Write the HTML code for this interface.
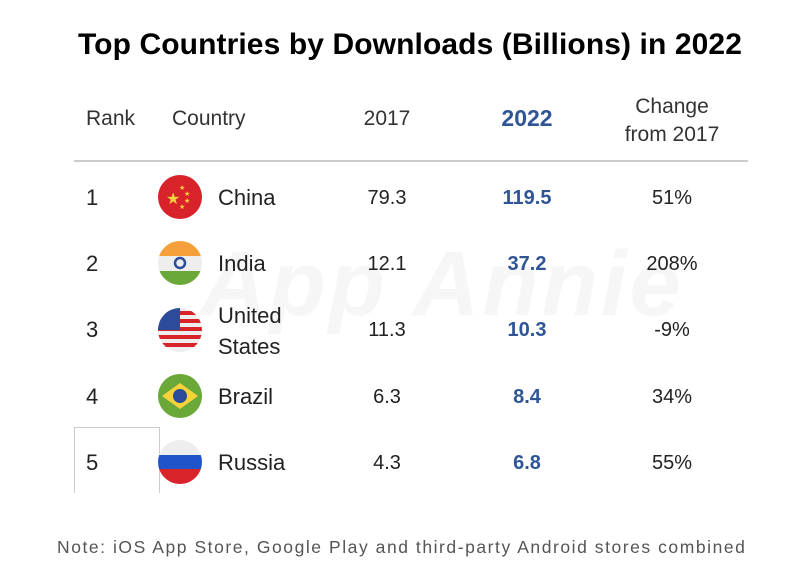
<!DOCTYPE html>
<html><head><style>
body{margin:0;width:800px;height:574px;background:#fff;overflow:hidden;position:relative;font-family:"Liberation Sans",sans-serif;color:#222}
.t{position:absolute;white-space:nowrap}
.title{left:0;width:820px;text-align:center;top:28px;font-size:30px;font-weight:bold;color:#000;letter-spacing:0.1px}
.h{font-size:21px;color:#333}
.c{font-size:22px;color:#222}
.n{font-size:20px;margin-top:2px}
.b{font-weight:bold;color:#2f5597}
.ctr{transform:translateX(-50%);text-align:center}
</style></head><body>
<div class="t title">Top Countries by Downloads (Billions) in 2022</div>
<div class="t" style="left:200px;top:232px;font-size:92px;font-style:italic;font-weight:bold;color:#f6f6f6;letter-spacing:3px">App Annie</div>
<div class="t h" style="left:86px;top:107px">Rank</div>
<div class="t h" style="left:172px;top:107px">Country</div>
<div class="t h ctr" style="left:387px;top:107px">2017</div>
<div class="t h ctr b" style="left:527px;top:105px;font-size:23px">2022</div>
<div class="t h ctr" style="left:672px;top:93px;line-height:28px">Change<br>from 2017</div>
<div style="position:absolute;left:74px;top:160px;width:674px;height:2px;background:#ccc"></div>
<div style="position:absolute;left:74px;top:427px;width:86px;height:1px;background:#ccc"></div>
<div style="position:absolute;left:74px;top:427px;width:1px;height:66px;background:#ccc"></div>
<div style="position:absolute;left:159px;top:427px;width:1px;height:66px;background:#ccc"></div>

<svg width="800" height="574" style="position:absolute;left:0;top:0">
<defs>
<clipPath id="c2"><circle cx="180" cy="263" r="22"/></clipPath>
<clipPath id="c3"><circle cx="180" cy="330" r="22"/></clipPath>
<clipPath id="c5"><circle cx="180" cy="462" r="22"/></clipPath>
</defs>
<circle cx="180" cy="197" r="22" fill="#d8232a"/>
<text x="166" y="204" font-size="16" fill="#f7d33a">★</text>
<text x="179" y="190" font-size="7" fill="#f7d33a">★</text><text x="184" y="196" font-size="7" fill="#f7d33a">★</text><text x="184" y="203" font-size="7" fill="#f7d33a">★</text><text x="179" y="209" font-size="7" fill="#f7d33a">★</text>
<g clip-path="url(#c2)"><rect x="158" y="241" width="44" height="15" fill="#f5a03a"/><rect x="158" y="256" width="44" height="15" fill="#eee"/><rect x="158" y="271" width="44" height="14" fill="#6aa83a"/><circle cx="180" cy="263" r="5" fill="none" stroke="#2a4c9a" stroke-width="2.5"/></g>
<g clip-path="url(#c3)"><rect x="158" y="308" width="44" height="44" fill="#eee"/>
<rect x="158" y="311" width="44" height="4" fill="#d8232a"/><rect x="158" y="319" width="44" height="4" fill="#d8232a"/><rect x="158" y="327" width="44" height="4" fill="#d8232a"/><rect x="158" y="335" width="44" height="4" fill="#d8232a"/><rect x="158" y="343" width="44" height="4" fill="#d8232a"/>
<rect x="158" y="308" width="22" height="22" fill="#2a4c9a"/></g>
<circle cx="180" cy="396" r="22" fill="#6aa83a"/>
<polygon points="162,396 180,383 198,396 180,409" fill="#f7d33a"/>
<circle cx="180" cy="396" r="7" fill="#2a4c9a"/>
<g clip-path="url(#c5)"><rect x="158" y="440" width="44" height="15" fill="#eee"/><rect x="158" y="455" width="44" height="15" fill="#1f55c8"/><rect x="158" y="469" width="44" height="16" fill="#d8232a"/></g>
</svg>

<div class="t c" style="left:86px;top:185px">1</div>
<div class="t c" style="left:218px;top:185px">China</div>
<div class="t c ctr n" style="left:387px;top:185px">79.3</div>
<div class="t c ctr b n" style="left:527px;top:185px">119.5</div>
<div class="t c ctr n" style="left:672px;top:185px">51%</div>

<div class="t c" style="left:86px;top:251px">2</div>
<div class="t c" style="left:218px;top:251px">India</div>
<div class="t c ctr n" style="left:387px;top:251px">12.1</div>
<div class="t c ctr b n" style="left:527px;top:251px">37.2</div>
<div class="t c ctr n" style="left:672px;top:251px">208%</div>

<div class="t c" style="left:86px;top:317px">3</div>
<div class="t c" style="left:218px;top:300px;line-height:31px">United<br>States</div>
<div class="t c ctr n" style="left:387px;top:317px">11.3</div>
<div class="t c ctr b n" style="left:527px;top:317px">10.3</div>
<div class="t c ctr n" style="left:672px;top:317px">-9%</div>

<div class="t c" style="left:86px;top:384px">4</div>
<div class="t c" style="left:218px;top:384px">Brazil</div>
<div class="t c ctr n" style="left:387px;top:384px">6.3</div>
<div class="t c ctr b n" style="left:527px;top:384px">8.4</div>
<div class="t c ctr n" style="left:672px;top:384px">34%</div>

<div class="t c" style="left:86px;top:450px">5</div>
<div class="t c" style="left:218px;top:450px">Russia</div>
<div class="t c ctr n" style="left:387px;top:450px">4.3</div>
<div class="t c ctr b n" style="left:527px;top:450px">6.8</div>
<div class="t c ctr n" style="left:672px;top:450px">55%</div>

<div class="t" style="left:57px;top:537px;font-size:17.5px;color:#555;letter-spacing:1.55px">Note: iOS App Store, Google Play and third-party Android stores combined</div>
</body></html>
